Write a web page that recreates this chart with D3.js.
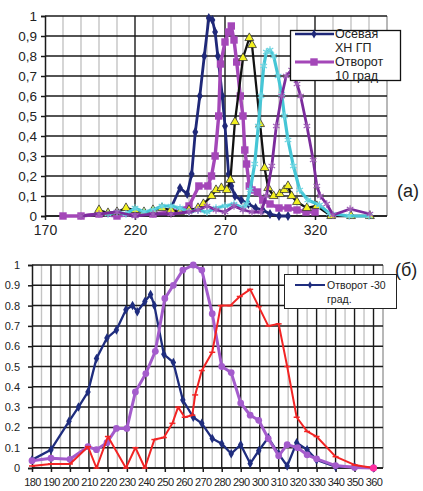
<!DOCTYPE html>
<html><head><meta charset="utf-8">
<script src="https://cdn.jsdelivr.net/npm/d3@7"></script>
<style>
body{margin:0;background:#fff}
svg{display:block}
text{font-family:"Liberation Sans",Arial,sans-serif;fill:#222}
</style>
</head><body>
<svg id="c" width="423" height="491"></svg>
<script>
// ---------- TOP CHART (a) DATA ----------
const topXTicks = [170, 220, 270, 320];
const topYTicks = [0,0.1,0.2,0.3,0.4,0.5,0.6,0.7,0.8,0.9,1];

const axialX = [240,245,249,251.5,253.5,256,258.5,261,263,264.5,266,268.5,270,272,273.5,275.5,279,283,287,291,295,300,305];
const axialY = [0.04,0.14,0.11,0.21,0.42,0.6,0.8,0.99,0.98,0.92,0.8,0.6,0.45,0.21,0.15,0.1,0.08,0.06,0.04,0.03,0.01,0,0];

const turn10X = [180,190,200,210,220,230,240,245,250,255.5,260.5,262.5,264.5,266.5,267.5,270,272,273.5,275,276.5,278.5,280,281,282,283.5,285,288,291,295,300,305,310,315,320];
const turn10Y = [0,0,0.01,0,0.01,0.01,0.02,0.03,0.05,0.15,0.15,0.2,0.3,0.5,0.76,0.87,0.92,0.95,0.88,0.77,0.6,0.5,0.33,0.26,0.15,0.13,0.12,0.08,0.06,0.04,0.04,0.03,0.02,0.02];

const triX = [200,205,210,215,220,225,230,235,240,245,250,255,258,262.5,265,268,271,273,275.5,280,283.5,285,289.5,292,294,297,300.5,303,305,307,310,315.5,321,329,340,350.5];
const triY = [0.03,0.015,0.02,0.04,0.03,0.02,0.03,0.04,0.03,0.02,0.03,0.04,0.06,0.1,0.13,0.14,0.13,0.18,0.47,0.79,0.89,0.855,0.46,0.24,0.14,0.1,0.11,0.13,0.15,0.1,0.07,0.04,0.05,0,0,0];

const cyanX = [205,210,215,220,225,230,235,240,245,250,255,260,265,270,275,280,282,284,286.5,288.5,290,291.5,293,295,297,299.5,301.5,303,305,308,311.5,316,322.5,328,339,350];
const cyanY = [0.01,0.02,0.01,0.04,0.02,0.03,0.05,0.05,0.04,0.02,0.03,0.02,0.04,0.05,0.06,0.04,0.06,0.13,0.26,0.45,0.6,0.75,0.82,0.83,0.8,0.7,0.61,0.5,0.38,0.25,0.13,0.08,0.055,0.013,0,0];

const violetX = [190,200,210,220,230,240,250,255,260,265,270,275,280,285,290,293,296,298.5,301.5,304,307,310,312,315.5,319,321,323,326.5,330,339.5,350.5];
const violetY = [0,0.01,0.02,0,0.01,0.01,0.02,0.03,0.05,0.03,0.02,0.05,0.03,0.02,0.02,0.1,0.25,0.45,0.6,0.7,0.73,0.66,0.6,0.45,0.28,0.15,0.1,0.06,0.005,0.035,0.01];

const topLegend = [["Осевая","ХН ГП"],["Отворот","10 град"]];

// ---------- BOTTOM CHART (б) DATA ----------
const botXTicks = [180,190,200,210,220,230,240,250,260,270,280,290,300,310,320,330,340,350,360];
const botYTicks = [0,0.1,0.2,0.3,0.4,0.5,0.6,0.7,0.8,0.9,1];

const m30X = [180,190,199.5,204.5,209.5,214,219.5,224.5,229.5,233,235.5,239.5,242.5,244.5,249.5,254.5,259.5,265,269.5,275,280,285,290,295,299.5,304.5,310,314.5,319.5,325,330,340,350,360];
const m30Y = [0.04,0.09,0.23,0.3,0.375,0.54,0.64,0.68,0.78,0.8,0.77,0.82,0.855,0.8,0.56,0.52,0.335,0.25,0.22,0.145,0.12,0.07,0.115,0.022,0.085,0.15,0.07,0.01,0.125,0.09,0.04,0.006,0.006,0];

const purpX = [180,190,200,209.5,214,219.5,224.5,230,234.5,240,245,250,254.5,259.5,265,269.5,275,280,285,290,295,299.5,304.5,310,314.5,320,325,330,340,350,360];
const purpY = [0.036,0.048,0.043,0.105,0.09,0.125,0.195,0.195,0.375,0.465,0.575,0.835,0.9,0.975,1.0,0.975,0.76,0.5,0.47,0.32,0.26,0.235,0.145,0.06,0.115,0.1,0.065,0.045,0.012,0.003,0];

const redX = [180,190,200,209.5,214,220,229.5,234.5,239.5,244.5,249.5,254,257,260.5,264.5,266,269.5,275,279.5,284.5,289.5,295,299.5,304.5,310,314.5,319.5,325,330,340,350,360];
const redY = [0.01,0.02,0.02,0.105,0,0.155,0,0.1,0,0.14,0.15,0.22,0.3,0.25,0.26,0.36,0.48,0.57,0.8,0.8,0.845,0.88,0.795,0.7,0.71,0.5,0.25,0.18,0.155,0.056,0.015,0];

const botLegend = ["Отворот -30","град."];

// ---------- DRAW ----------
const svg = d3.select("#c");
const zip = (xs, ys) => xs.map((x,i)=>({x, y: ys[i]}));
const ruFmt = d3.formatLocale({decimal:",", thousands:" ", grouping:[3], currency:["",""]}).format("~g");
const enFmt = d3.format("~g");

function chart(opt){
  const g = svg.append("g");
  const x = d3.scaleLinear().domain(opt.xd).range(opt.xr);
  const y = d3.scaleLinear().domain([0,1]).range(opt.yr);
  opt.vgrid.forEach(v=>{
    g.append("line").attr("x1",x(v)).attr("x2",x(v)).attr("y1",y(0)).attr("y2",y(1))
     .attr("stroke", opt.isMajor(v) ? "#1a1a1a" : "#c4c4c4").attr("stroke-width", opt.isMajor(v)?1.4:1.4);
  });
  g.append("line").attr("x1",x(opt.xd[1])).attr("x2",x(opt.xd[1])).attr("y1",y(0)).attr("y2",y(1))
   .attr("stroke","#9a9a9a").attr("stroke-width",1.4);
  opt.yTicks.forEach(v=>{
    g.append("line").attr("x1",x(opt.xd[0])).attr("x2",x(opt.xd[1])).attr("y1",y(v)).attr("y2",y(v))
     .attr("stroke","#1a1a1a").attr("stroke-width",1.5);
  });
  const ya = d3.axisLeft(y).tickValues(opt.yTicks).tickFormat(opt.yFmt).tickSize(4).tickPadding(opt.yPad);
  const yg = g.append("g").attr("transform",`translate(${x(opt.xd[0])},0)`).call(ya);
  yg.selectAll("path,line").attr("stroke","#1a1a1a").attr("stroke-width",1.5);
  yg.selectAll("text").style("font-size",opt.fs+"px").attr("fill","#222");
  const xa = d3.axisBottom(x).tickValues(opt.xTicks).tickFormat(d3.format("d")).tickSize(4).tickPadding(opt.xPad);
  const xg = g.append("g").attr("transform",`translate(0,${y(0)})`).call(xa);
  xg.selectAll("path,line").attr("stroke","#1a1a1a").attr("stroke-width",1.5);
  xg.selectAll("text").style("font-size",opt.xfs+"px").attr("fill","#222").style("letter-spacing",opt.xls||"0px");
  xg.select(".domain").attr("d",`M${x(opt.xd[0])},0H${x(opt.xd[1])}`);
  return {g,x,y};
}

function series(c, data, s){
  const line = d3.line().x(d=>c.x(d.x)).y(d=>c.y(d.y));
  c.g.append("path").datum(data).attr("d",line).attr("fill","none")
    .attr("stroke",s.color).attr("stroke-width",s.width).attr("stroke-linejoin","round");
  const mg = c.g.append("g");
  data.forEach(d=>{
    const px=c.x(d.x), py=c.y(d.y);
    if(s.marker==="dash"){
      mg.append("line").attr("x1",px-3).attr("x2",px+3).attr("y1",py).attr("y2",py)
        .attr("stroke",s.color).attr("stroke-width",1.5);
    } else if(s.marker==="asterisk"){
      mg.append("path").attr("d",d3.symbol(d3.symbolAsterisk, s.size)()).attr("transform",`translate(${px},${py})`)
        .attr("fill","none").attr("stroke",s.mcolor||s.color).attr("stroke-width",1.2);
    } else {
      mg.append("path").attr("d",d3.symbol(s.marker, s.size)()).attr("transform",`translate(${px},${py})`)
        .attr("fill",s.fill||s.color).attr("stroke",s.mstroke||"none").attr("stroke-width",0.8);
    }
  });
}

// top chart
const topC = chart({
  xd:[170,360], xr:[45,387], yr:[216,16],
  vgrid:d3.range(180,360,10), isMajor:v=>(v-170)%50===0,
  yTicks:topYTicks, xTicks:topXTicks, yFmt:ruFmt, fs:13.5, xfs:14, yPad:4, xPad:5
});
series(topC, zip(axialX,axialY), {color:"#1f2878", width:2.8, marker:d3.symbolDiamond, size:30});
series(topC, zip(turn10X,turn10Y), {color:"#a447b8", width:3.4, marker:d3.symbolSquare, size:55});
series(topC, zip(triX,triY), {color:"#111", width:2.3, marker:d3.symbolTriangle, size:34, fill:"#f2f020", mstroke:"#333"});
series(topC, zip(cyanX,cyanY), {color:"#45c6d6", width:3.2, marker:"asterisk", size:40, mcolor:"#6fd6e2"});
series(topC, zip(violetX,violetY), {color:"#7b2b9c", width:2.8, marker:"asterisk", size:40, mcolor:"#a060b8"});

// top legend
{
  const lg = svg.append("g");
  lg.append("rect").attr("x",290.5).attr("y",30.5).attr("width",110).attr("height",50)
    .attr("fill","#fff").attr("stroke","#111").attr("stroke-width",1.3);
  lg.append("line").attr("x1",295).attr("x2",334).attr("y1",34).attr("y2",34).attr("stroke","#1f2878").attr("stroke-width",2.4);
  lg.append("path").attr("d",d3.symbol(d3.symbolDiamond,24)()).attr("transform","translate(314,34)").attr("fill","#1f2878");
  lg.append("line").attr("x1",295).attr("x2",334).attr("y1",62).attr("y2",62).attr("stroke","#a447b8").attr("stroke-width",3.2);
  lg.append("path").attr("d",d3.symbol(d3.symbolSquare,55)()).attr("transform","translate(314,62)").attr("fill","#a447b8");
  const t = [[topLegend[0][0],38],[topLegend[0][1],52],[topLegend[1][0],66],[topLegend[1][1],79.5]];
  t.forEach(([s,yy])=>lg.append("text").attr("x",335).attr("y",yy).style("font-size","12.5px").text(s));
}
svg.append("text").attr("x",397).attr("y",197).style("font-size","18px").text("(a)");

// bottom chart
const botC = chart({
  xd:[180,365], xr:[32,383], yr:[468,265],
  vgrid:d3.range(185,365,5), isMajor:v=>v%10===0,
  yTicks:botYTicks, xTicks:botXTicks, yFmt:enFmt, fs:11, xfs:11, yPad:8, xPad:6, xls:"-0.6px"
});
series(botC, zip(m30X,m30Y), {color:"#1f2d7e", width:2.3, marker:d3.symbolDiamond, size:26});
series(botC, zip(purpX,purpY), {color:"#a45ccc", width:3, marker:d3.symbolCircle, size:36});
series(botC, zip(redX,redY), {color:"#f22424", width:2, marker:"dash"});
botC.g.append("circle").attr("cx",botC.x(360)).attr("cy",botC.y(0)).attr("r",3.5).attr("fill","#ff2fa0");

// bottom legend
{
  const lg = svg.append("g");
  lg.append("rect").attr("x",284.5).attr("y",274.5).attr("width",112).attr("height",34)
    .attr("fill","#fff").attr("stroke","#222").attr("stroke-width",1);
  lg.append("line").attr("x1",295).attr("x2",325).attr("y1",285).attr("y2",285).attr("stroke","#1f2d7e").attr("stroke-width",2);
  lg.append("path").attr("d",d3.symbol(d3.symbolDiamond,16)()).attr("transform","translate(310,285)").attr("fill","#1f2d7e");
  lg.append("text").attr("x",327).attr("y",289).style("font-size","10.5px").text(botLegend[0]);
  lg.append("text").attr("x",327).attr("y",303).style("font-size","10.5px").text(botLegend[1]);
}
svg.append("text").attr("x",395).attr("y",276).style("font-size","18px").text("(б)");
</script>
</body></html>
